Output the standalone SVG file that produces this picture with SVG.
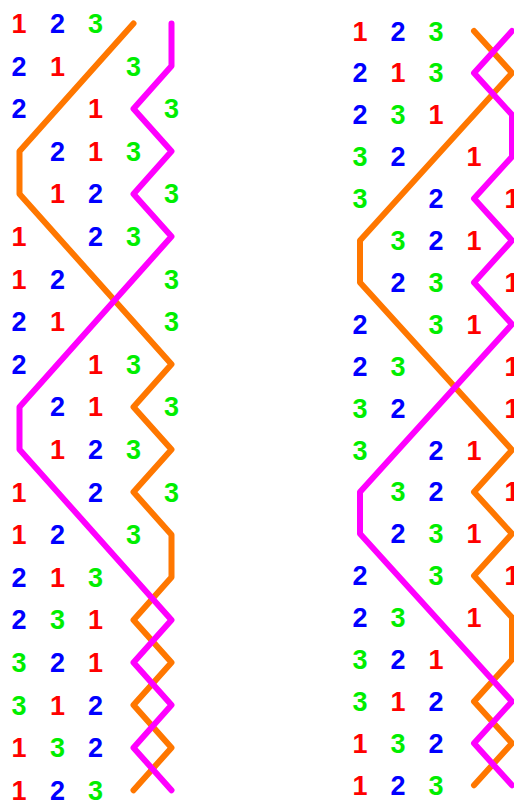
<svg xmlns="http://www.w3.org/2000/svg" width="514" height="804" viewBox="0 0 514 804">
<style>
text{font-family:"Liberation Sans",Arial,sans-serif;font-weight:bold;font-size:27px;text-anchor:middle}
.r{fill:#ff0000}.b{fill:#0000ff}.g{fill:#00ee00}
.ln{fill:none;stroke-width:6;stroke-linecap:round;stroke-linejoin:round}
.o{stroke:#ff7700}.m{stroke:#ff00ff}
</style>
<rect width="514" height="804" fill="#ffffff"/>
<g id="connectors">
<polyline class="ln o" points="133.5,23.5 19.5,151.3 19.5,193.9 171.5,364.3 133.5,406.9 171.5,449.5 133.5,492.1 171.5,534.7 171.5,577.3 133.5,619.9 171.5,662.5 133.5,705.1 171.5,747.7 133.5,790.3"/>
<polyline class="ln m" points="171.5,23.5 171.5,66.1 133.5,108.7 171.5,151.3 133.5,193.9 171.5,236.5 19.5,406.9 19.5,449.5 171.5,619.9 133.5,662.5 171.5,705.1 133.5,747.7 171.5,790.3"/>
<polyline class="ln o" points="474,31 512,72.9 360,240.5 360,282.4 512,450 474,491.9 512,533.8 474,575.7 512,617.6 512,659.5 474,701.4 512,743.3 474,785.2"/>
<polyline class="ln m" points="512,31 474,72.9 512,114.8 512,156.7 474,198.6 512,240.5 474,282.4 512,324.3 360,491.9 360,533.8 512,701.4 474,743.3 512,785.2"/>
</g>
<g id="left">
<text class="r" x="19" y="33">1</text><text class="b" x="57.5" y="33">2</text><text class="g" x="95.5" y="33">3</text>
<text class="b" x="19" y="75.6">2</text><text class="r" x="57.5" y="75.6">1</text><text class="g" x="133.5" y="75.6">3</text>
<text class="b" x="19" y="118.2">2</text><text class="r" x="95.5" y="118.2">1</text><text class="g" x="171.5" y="118.2">3</text>
<text class="b" x="57.5" y="160.8">2</text><text class="r" x="95.5" y="160.8">1</text><text class="g" x="133.5" y="160.8">3</text>
<text class="r" x="57.5" y="203.4">1</text><text class="b" x="95.5" y="203.4">2</text><text class="g" x="171.5" y="203.4">3</text>
<text class="r" x="19" y="246">1</text><text class="b" x="95.5" y="246">2</text><text class="g" x="133.5" y="246">3</text>
<text class="r" x="19" y="288.6">1</text><text class="b" x="57.5" y="288.6">2</text><text class="g" x="171.5" y="288.6">3</text>
<text class="b" x="19" y="331.2">2</text><text class="r" x="57.5" y="331.2">1</text><text class="g" x="171.5" y="331.2">3</text>
<text class="b" x="19" y="373.8">2</text><text class="r" x="95.5" y="373.8">1</text><text class="g" x="133.5" y="373.8">3</text>
<text class="b" x="57.5" y="416.4">2</text><text class="r" x="95.5" y="416.4">1</text><text class="g" x="171.5" y="416.4">3</text>
<text class="r" x="57.5" y="459">1</text><text class="b" x="95.5" y="459">2</text><text class="g" x="133.5" y="459">3</text>
<text class="r" x="19" y="501.6">1</text><text class="b" x="95.5" y="501.6">2</text><text class="g" x="171.5" y="501.6">3</text>
<text class="r" x="19" y="544.2">1</text><text class="b" x="57.5" y="544.2">2</text><text class="g" x="133.5" y="544.2">3</text>
<text class="b" x="19" y="586.8">2</text><text class="r" x="57.5" y="586.8">1</text><text class="g" x="95.5" y="586.8">3</text>
<text class="b" x="19" y="629.4">2</text><text class="g" x="57.5" y="629.4">3</text><text class="r" x="95.5" y="629.4">1</text>
<text class="g" x="19" y="672">3</text><text class="b" x="57.5" y="672">2</text><text class="r" x="95.5" y="672">1</text>
<text class="g" x="19" y="714.6">3</text><text class="r" x="57.5" y="714.6">1</text><text class="b" x="95.5" y="714.6">2</text>
<text class="r" x="19" y="757.2">1</text><text class="g" x="57.5" y="757.2">3</text><text class="b" x="95.5" y="757.2">2</text>
<text class="r" x="19" y="799.6">1</text><text class="b" x="57.5" y="799.6">2</text><text class="g" x="95.5" y="799.6">3</text>
</g>
<g id="right">
<text class="r" x="360" y="40.5">1</text><text class="b" x="398" y="40.5">2</text><text class="g" x="436" y="40.5">3</text>
<text class="b" x="360" y="82.4">2</text><text class="r" x="398" y="82.4">1</text><text class="g" x="436" y="82.4">3</text>
<text class="b" x="360" y="124.3">2</text><text class="g" x="398" y="124.3">3</text><text class="r" x="436" y="124.3">1</text>
<text class="g" x="360" y="166.2">3</text><text class="b" x="398" y="166.2">2</text><text class="r" x="474" y="166.2">1</text>
<text class="g" x="360" y="208.1">3</text><text class="b" x="436" y="208.1">2</text><text class="r" x="512" y="208.1">1</text>
<text class="g" x="398" y="250">3</text><text class="b" x="436" y="250">2</text><text class="r" x="474" y="250">1</text>
<text class="b" x="398" y="291.9">2</text><text class="g" x="436" y="291.9">3</text><text class="r" x="512" y="291.9">1</text>
<text class="b" x="360" y="333.8">2</text><text class="g" x="436" y="333.8">3</text><text class="r" x="474" y="333.8">1</text>
<text class="b" x="360" y="375.7">2</text><text class="g" x="398" y="375.7">3</text><text class="r" x="512" y="375.7">1</text>
<text class="g" x="360" y="417.6">3</text><text class="b" x="398" y="417.6">2</text><text class="r" x="512" y="417.6">1</text>
<text class="g" x="360" y="459.5">3</text><text class="b" x="436" y="459.5">2</text><text class="r" x="474" y="459.5">1</text>
<text class="g" x="398" y="501.4">3</text><text class="b" x="436" y="501.4">2</text><text class="r" x="512" y="501.4">1</text>
<text class="b" x="398" y="543.3">2</text><text class="g" x="436" y="543.3">3</text><text class="r" x="474" y="543.3">1</text>
<text class="b" x="360" y="585.2">2</text><text class="g" x="436" y="585.2">3</text><text class="r" x="512" y="585.2">1</text>
<text class="b" x="360" y="627.1">2</text><text class="g" x="398" y="627.1">3</text><text class="r" x="474" y="627.1">1</text>
<text class="g" x="360" y="669">3</text><text class="b" x="398" y="669">2</text><text class="r" x="436" y="669">1</text>
<text class="g" x="360" y="710.9">3</text><text class="r" x="398" y="710.9">1</text><text class="b" x="436" y="710.9">2</text>
<text class="r" x="360" y="752.8">1</text><text class="g" x="398" y="752.8">3</text><text class="b" x="436" y="752.8">2</text>
<text class="r" x="360" y="794.7">1</text><text class="b" x="398" y="794.7">2</text><text class="g" x="436" y="794.7">3</text>
</g>
</svg>
